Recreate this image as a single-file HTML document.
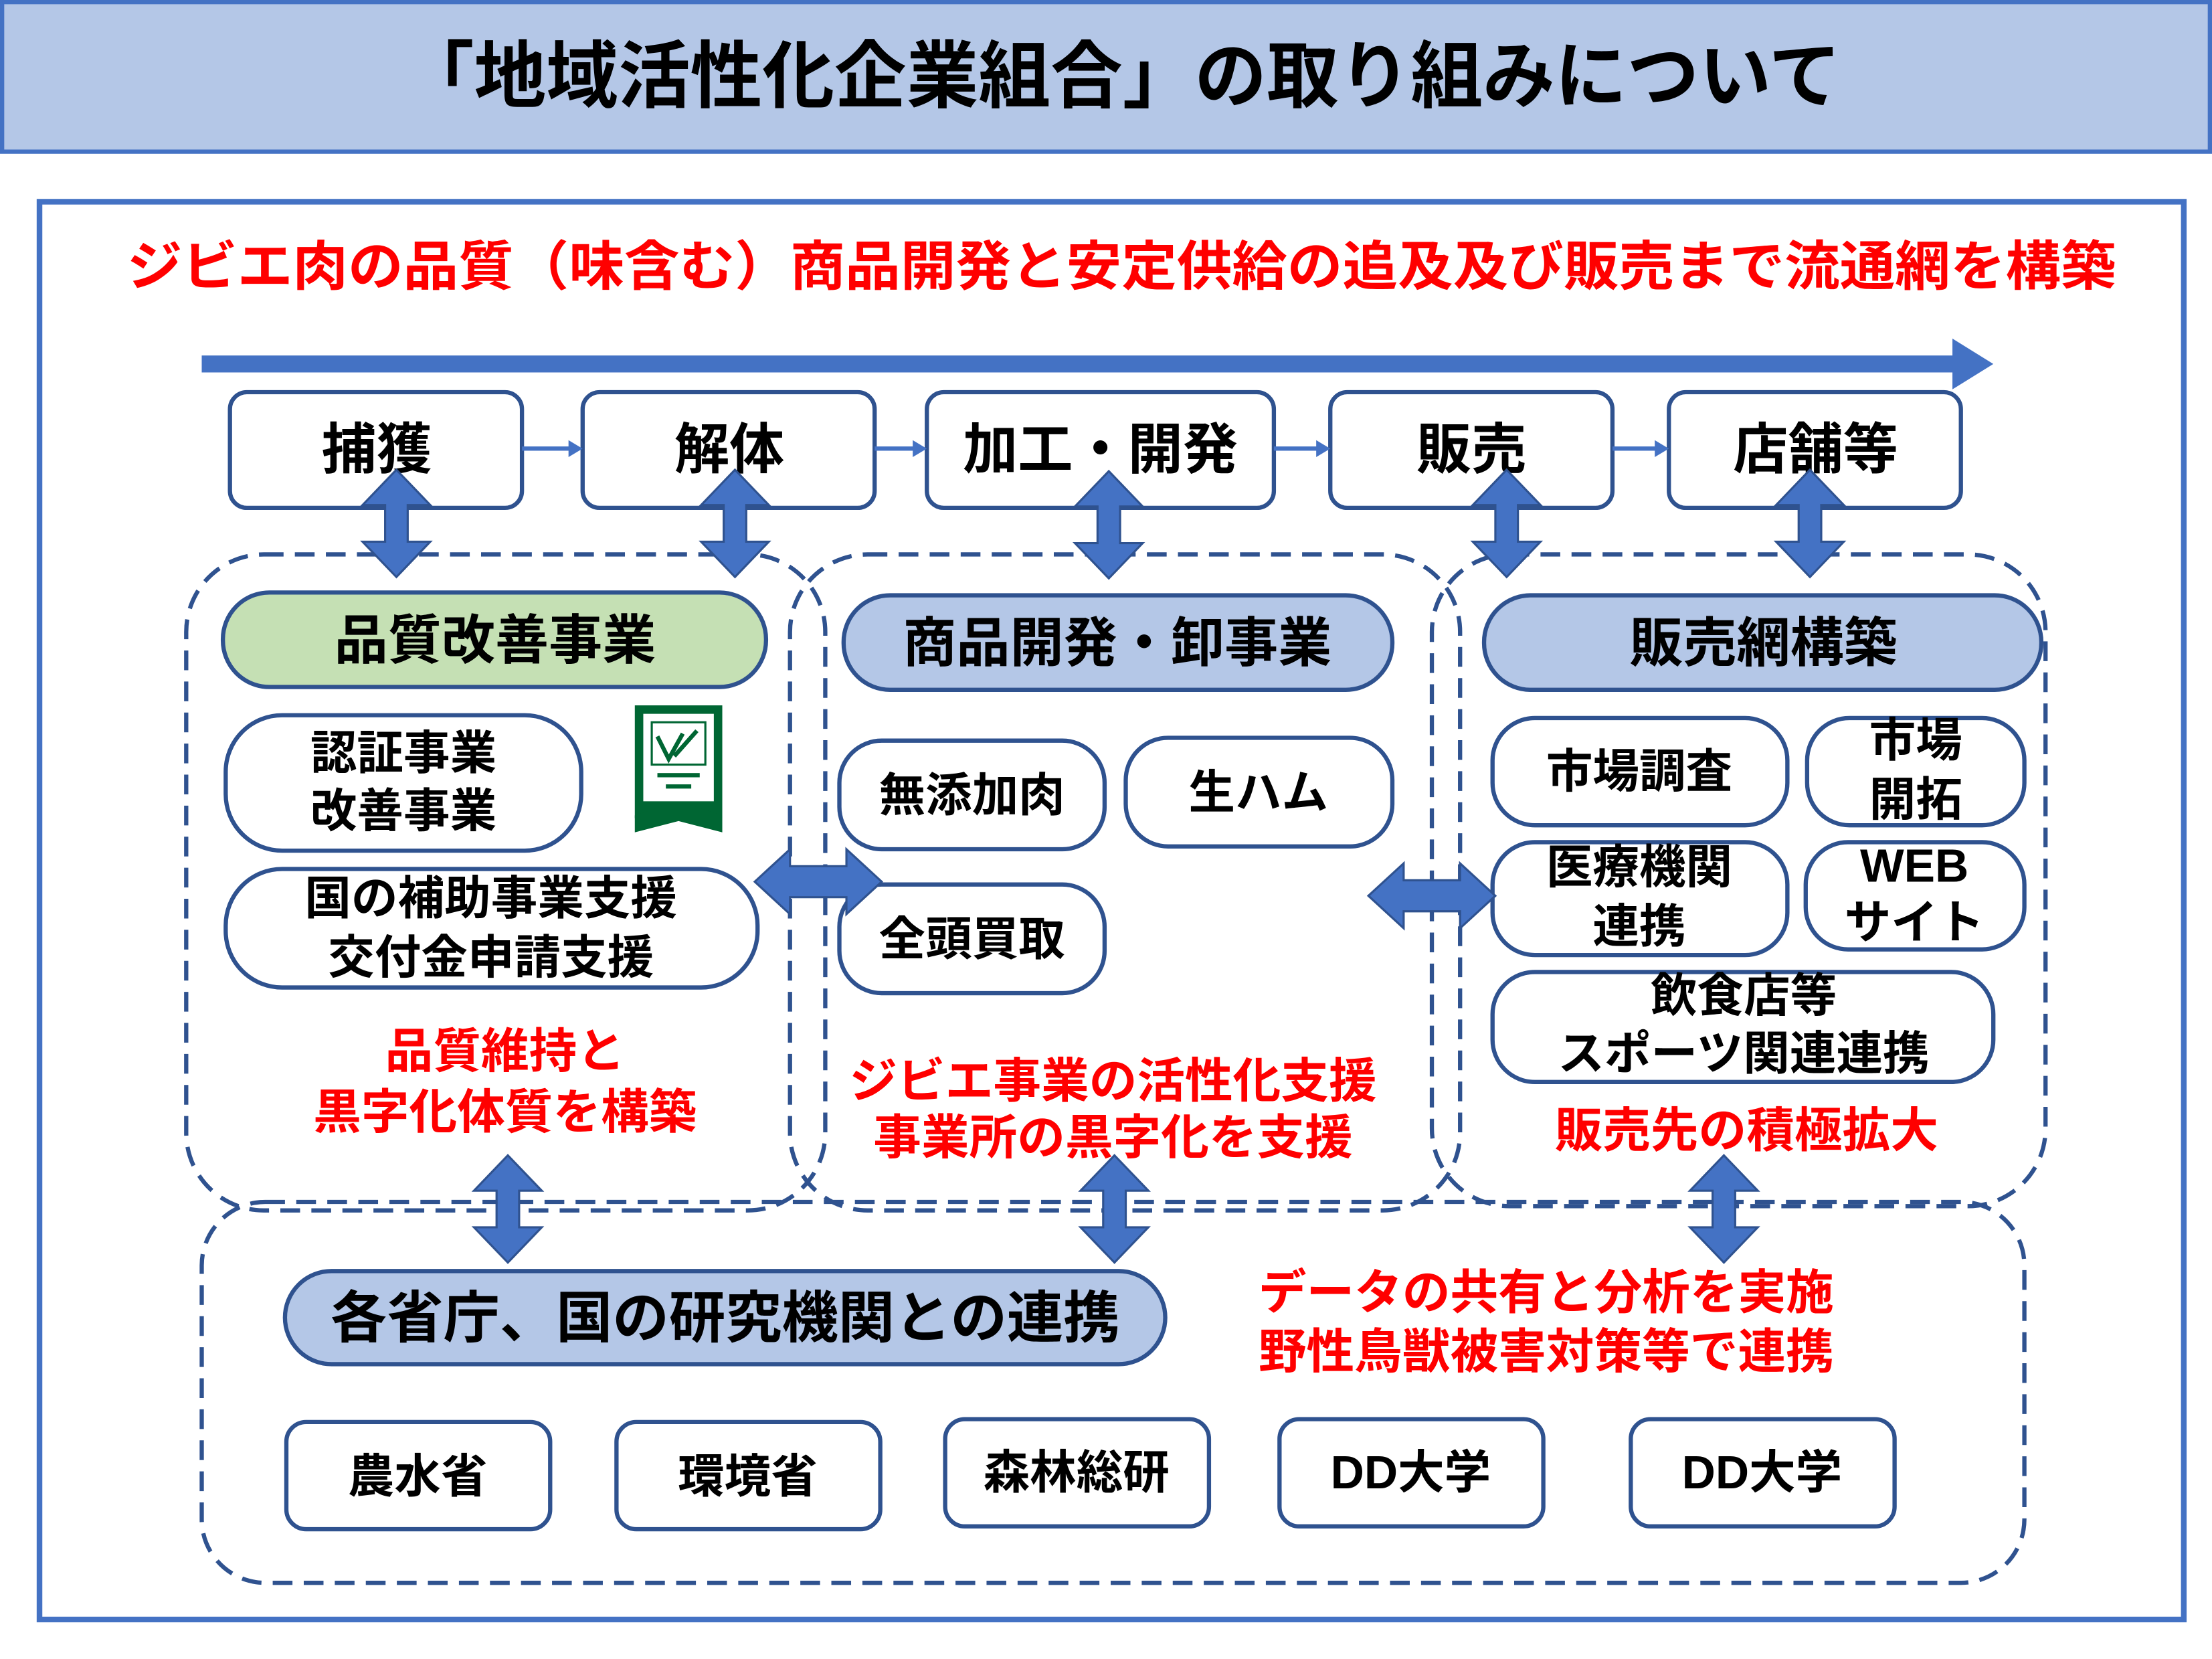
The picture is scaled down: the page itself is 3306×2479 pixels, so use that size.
<!DOCTYPE html>
<html><head><meta charset="utf-8"><style>
html,body{margin:0;padding:0;background:#fff}
svg{display:block}
text{font-family:"Liberation Sans","Noto Sans CJK JP",sans-serif;font-weight:bold}
</style></head><body>
<svg width="3306" height="2479" viewBox="0 0 1568 1176" preserveAspectRatio="none" xmlns="http://www.w3.org/2000/svg">
<defs>
<g id="va"><polygon points="0,-38 24,-13 8,-13 8,13 24,13 0,38 -24,13 -8,13 -8,-13 -24,-13" fill="#4472c4" stroke="#2f528f" stroke-width="1.5"/></g>
</defs>
<rect x="1.5" y="1.5" width="1565" height="106" fill="#b4c7e7" stroke="#4472c4" stroke-width="3"/>
<text x="285" y="72" font-size="52" textLength="1020" lengthAdjust="spacingAndGlyphs">「地域活性化企業組合」の取り組みについて</text>
<rect x="28" y="143" width="1520" height="1005" fill="#fff" stroke="#4472c4" stroke-width="4"/>
<text x="90" y="202" font-size="38" fill="#ff0000" textLength="1410" lengthAdjust="spacingAndGlyphs">ジビエ肉の品質（味含む）商品開発と安定供給の追及及び販売まで流通網を構築</text>
<rect x="143" y="252" width="1245" height="12" fill="#4472c4"/>
<polygon points="1384,240 1413,258 1384,276" fill="#4472c4"/>
<g fill="none" stroke="#2f528f" stroke-width="3" stroke-dasharray="14 8">
<rect x="132" y="393" width="453" height="465" rx="55"/>
<rect x="560" y="393" width="475" height="465" rx="55"/>
<rect x="1015" y="393" width="435" height="462" rx="55"/>
<rect x="143" y="852" width="1292" height="270" rx="45"/>
</g>
<g fill="#fff" stroke="#2f528f" stroke-width="3">
<rect x="163" y="278" width="207" height="82" rx="12"/>
<rect x="413" y="278" width="207" height="82" rx="12"/>
<rect x="657" y="278" width="246" height="82" rx="12"/>
<rect x="943" y="278" width="200" height="82" rx="12"/>
<rect x="1183" y="278" width="207" height="82" rx="12"/>
</g>
<g stroke="#4472c4" stroke-width="3" fill="#4472c4">
<line x1="370" y1="318" x2="405" y2="318"/><polygon points="403,312 413,318 403,324" stroke="none"/>
<line x1="620" y1="318" x2="649" y2="318"/><polygon points="647,312 657,318 647,324" stroke="none"/>
<line x1="903" y1="318" x2="935" y2="318"/><polygon points="933,312 943,318 933,324" stroke="none"/>
<line x1="1143" y1="318" x2="1175" y2="318"/><polygon points="1173,312 1183,318 1173,324" stroke="none"/>
</g>
<g font-size="39" text-anchor="middle">
<text x="267" y="332">捕獲</text>
<text x="517" y="332">解体</text>
<text x="780" y="332">加工・開発</text>
<text x="1043" y="332">販売</text>
<text x="1287" y="332">店舗等</text>
</g>
<use href="#va" transform="translate(281,371)"/>
<use href="#va" transform="translate(521,371)"/>
<use href="#va" transform="translate(786,372)"/>
<use href="#va" transform="translate(1068,371)"/>
<use href="#va" transform="translate(1283,371)"/>
<g stroke="#2f528f" stroke-width="3">
<rect x="158" y="420" width="385" height="67" rx="33" fill="#c5e0b4"/>
<rect x="598" y="422" width="389" height="67" rx="33" fill="#b4c7e7"/>
<rect x="1052" y="422" width="395" height="67" rx="33" fill="#b4c7e7"/>
<rect x="202" y="901" width="624" height="66" rx="33" fill="#b4c7e7"/>
</g>
<g font-size="38" text-anchor="middle">
<text x="351" y="467">品質改善事業</text>
<text x="792" y="469">商品開発・卸事業</text>
<text x="1250" y="469">販売網構築</text>
<text x="514" y="948" font-size="40">各省庁、国の研究機関との連携</text>
</g>
<g fill="#fff" stroke="#2f528f" stroke-width="3">
<rect x="160" y="507" width="252" height="96" rx="40"/>
<rect x="160" y="616" width="377" height="84" rx="40"/>
<rect x="595" y="525" width="188" height="77" rx="30"/>
<rect x="798" y="523" width="189" height="77" rx="30"/>
<rect x="595" y="627" width="188" height="77" rx="30"/>
<rect x="1058" y="509" width="209" height="76" rx="30"/>
<rect x="1281" y="509" width="154" height="76" rx="30"/>
<rect x="1058" y="597" width="209" height="80" rx="30"/>
<rect x="1280" y="597" width="155" height="76" rx="30"/>
<rect x="1058" y="689" width="355" height="78" rx="30"/>
<rect x="203" y="1008" width="187" height="76" rx="14"/>
<rect x="437" y="1008" width="187" height="76" rx="14"/>
<rect x="670" y="1006" width="187" height="76" rx="14"/>
<rect x="907" y="1006" width="187" height="76" rx="14"/>
<rect x="1156" y="1006" width="187" height="76" rx="14"/>
</g>
<g font-size="33" text-anchor="middle">
<text x="286" y="545">認証事業</text><text x="286" y="586">改善事業</text>
<text x="348" y="648">国の補助事業支援</text><text x="348" y="690">交付金申請支援</text>
<text x="689" y="575">無添加肉</text>
<text x="892" y="573">生ハム</text>
<text x="689" y="677">全頭買取</text>
<text x="1162" y="558">市場調査</text>
<text x="1358" y="536">市場</text><text x="1358" y="578">開拓</text>
<text x="1162" y="626">医療機関</text><text x="1162" y="668">連携</text>
<text x="1357" y="625">WEB</text><text x="1357" y="665">サイト</text>
<text x="1236" y="717">飲食店等</text><text x="1236" y="758">スポーツ関連連携</text>
<text x="296" y="1058">農水省</text>
<text x="530" y="1058">環境省</text>
<text x="763" y="1055">森林総研</text>
<text x="1000" y="1055">DD大学</text>
<text x="1249" y="1055">DD大学</text>
</g>
<g>
<rect x="450" y="500" width="62" height="80" fill="#006633"/>
<polygon points="450,578 481,568 512,578 512,590 481,582 450,590" fill="#006633"/>
<rect x="456" y="506" width="50" height="62" fill="#fff"/>
<rect x="462" y="512" width="38" height="30" fill="none" stroke="#006633" stroke-width="1.5"/>
<path d="M466,522 L474,538 L484,520 M478,536 L494,518" stroke="#006633" stroke-width="3" fill="none"/>
<rect x="466" y="548" width="30" height="3" fill="#006633"/><rect x="472" y="556" width="18" height="3" fill="#006633"/>
</g>
<polygon points="535,625 560,602 560,614 600,614 600,602 625,625 600,648 600,636 560,636 560,648" fill="#4472c4" stroke="#2f528f" stroke-width="1.5"/>
<polygon points="970,635 995,612 995,624 1035,624 1035,612 1060,635 1035,658 1035,646 995,646 995,658" fill="#4472c4" stroke="#2f528f" stroke-width="1.5"/>
<g font-size="34" fill="#ff0000" text-anchor="middle">
<text x="358" y="757">品質維持と</text><text x="358" y="800">黒字化体質を構築</text>
<text x="789" y="778">ジビエ事業の活性化支援</text><text x="789" y="818">事業所の黒字化を支援</text>
<text x="1238" y="813">販売先の積極拡大</text>
<text x="1096" y="928">データの共有と分析を実施</text><text x="1096" y="970">野性鳥獣被害対策等で連携</text>
</g>
<use href="#va" transform="translate(360,857)"/>
<use href="#va" transform="translate(790,857)"/>
<use href="#va" transform="translate(1222,857)"/>
</svg>
</body></html>
